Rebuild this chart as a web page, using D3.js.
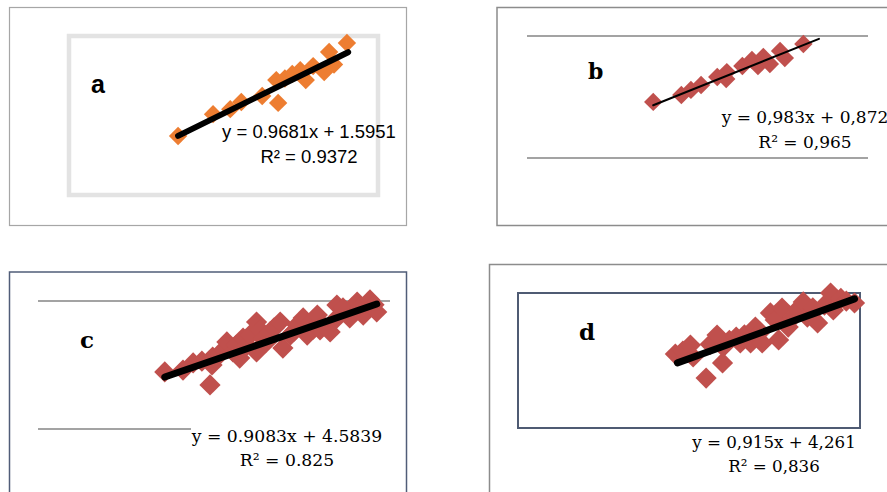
<!DOCTYPE html>
<html>
<head>
<meta charset="utf-8">
<script src="https://cdn.jsdelivr.net/npm/d3@7"></script>
<style>
  body { margin: 0; background: #fff; }
  svg { display: block; }
</style>
</head>
<body>
<svg id="chart" width="887" height="492"></svg>
<script>
// panel a (orange)
var aX = [17.6, 23.3, 26.1, 27.9, 31.3, 33.9, 33.6, 35.0, 36.2, 37.5, 38.4, 39.6, 41.4, 42.2, 43.0, 45.1];
var aY = [18.6, 25.6, 27.2, 29.5, 31.4, 29.2, 36.5, 37.0, 38.5, 39.7, 36.5, 41.0, 39.1, 45.5, 41.5, 48.4];
var aFit = {slope: 0.9681, intercept: 1.5951, from: 17.6, to: 45.3};
var aText = ["y = 0.9681x + 1.5951", "R² = 0.9372"];

// panel b
var bX = [21.1, 25.8, 27.4, 29.1, 31.8, 33.3, 33.4, 36.0, 37.6, 38.6, 39.5, 40.6, 42.3, 43.1, 46.2];
var bY = [23.0, 25.8, 27.9, 29.9, 33.2, 32.4, 35.2, 37.7, 40.2, 37.7, 41.4, 38.5, 43.9, 41.0, 46.7];
var bFit = {slope: 0.983, intercept: 0.872, from: 21.1, to: 48.8};
var bText = ["y = 0,983x + 0,872", "R² = 0,965"];

// panel c
var cX = [17.3, 20.0, 21.5, 22.8, 24.0, 24.3, 24.4, 25.4, 26.0, 26.5, 27.4, 27.9, 28.4, 28.9, 29.5, 29.9, 30.9,
          30.9, 31.4, 31.9, 32.4, 32.9, 33.5, 34.4, 34.8, 35.9, 36.4, 36.9, 37.8, 38.4, 38.9, 39.3, 39.9, 40.3,
          40.7, 41.8, 42.3, 42.8, 43.7, 44.2, 44.7, 45.8, 46.2, 46.7, 47.7, 48.3, 48.7];
var cY = [22.3, 23.0, 25.8, 26.5, 17.2, 25.0, 28.1, 29.0, 31.0, 34.0, 30.1, 32.8, 27.7, 35.5, 32.8, 36.7, 41.8,
          30.1, 38.7, 35.2, 34.0, 37.9, 39.5, 41.8, 31.6, 36.7, 38.0, 40.6, 43.4, 36.7, 41.5, 39.0, 44.5, 38.7,
          40.6, 37.9, 42.0, 48.4, 47.3, 46.0, 43.4, 49.6, 47.5, 44.5, 50.4, 48.5, 45.7];
var cFit = {slope: 0.9083, intercept: 4.5839, from: 17.3, to: 48.7};
var cText = ["y = 0.9083x + 4.5839", "R² = 0.825"];

// panel d
var dX = [21.4, 22.5, 23.6, 24.0, 25.9, 26.5, 27.5, 28.3, 28.4, 29.3, 30.3, 30.9, 31.5, 32.4, 33.1, 33.8,
          34.1, 35.3, 36.0, 36.5, 37.0, 37.9, 38.6, 39.3, 40.1, 40.7, 41.5, 42.2, 43.2, 44.1, 44.5, 45.6,
          46.4, 47.6];
var dY = [27.4, 28.5, 30.7, 26.3, 18.5, 31.0, 34.4, 24.1, 30.0, 32.5, 33.7, 31.5, 34.5, 31.5, 37.4, 35.5,
          31.5, 42.6, 40.0, 32.6, 44.4, 37.4, 41.0, 44.0, 46.7, 41.1, 44.5, 38.9, 45.5, 50.0, 43.7, 48.0,
          47.0, 46.3];
var dFit = {slope: 0.915, intercept: 4.261, from: 21.7, to: 47.6};
var dText = ["y = 0,915x + 4,261", "R² = 0,836"];

var gridValues = [0, 50];

var svg = d3.select("#chart");

function drawPanel(p) {
    var g = svg.append("g");
    var x = d3.scaleLinear().domain(p.xDomain).range(p.xRange);
    var y = d3.scaleLinear().domain([0, 50]).range(p.yRange);

    g.append("rect")
        .attr("x", p.outer[0])
        .attr("y", p.outer[1])
        .attr("width", p.outer[2])
        .attr("height", p.outer[3])
        .attr("fill", "none")
        .attr("stroke", p.outerColor)
        .attr("stroke-width", p.outerWidth);

    if (p.inner) {
        g.append("rect")
            .attr("x", p.inner[0])
            .attr("y", p.inner[1])
            .attr("width", p.inner[2])
            .attr("height", p.inner[3])
            .attr("fill", "none")
            .attr("stroke", p.innerColor)
            .attr("stroke-width", p.innerWidth);
    }

    if (p.grid) {
        g.selectAll(".grid")
            .data(gridValues)
            .enter().append("line")
            .attr("x1", p.grid[0])
            .attr("x2", p.grid[1])
            .attr("y1", function (d) { return y(d); })
            .attr("y2", function (d) { return y(d); })
            .attr("stroke", "#858585")
            .attr("stroke-width", 1.5);
    }

    var pts = p.xs.map(function (v, i) { return [v, p.ys[i]]; });
    g.selectAll(".pt")
        .data(pts)
        .enter().append("path")
        .attr("d", d3.symbol(d3.symbolSquare, p.markSize * p.markSize))
        .attr("transform", function (d) {
            return "translate(" + x(d[0]) + "," + y(d[1]) + ") rotate(45)";
        })
        .attr("fill", p.color);

    var f = p.fit;
    g.append("line")
        .attr("x1", x(f.from))
        .attr("y1", y(f.slope * f.from + f.intercept))
        .attr("x2", x(f.to))
        .attr("y2", y(f.slope * f.to + f.intercept))
        .attr("stroke", "#000")
        .attr("stroke-width", p.lineWidth)
        .attr("stroke-linecap", "round");

    g.append("text")
        .attr("x", p.labelPos[0])
        .attr("y", p.labelPos[1])
        .attr("font-family", p.labelFont)
        .attr("font-weight", "bold")
        .attr("font-size", p.labelSize + "px")
        .attr("fill", "#000")
        .text(p.label);

    var eq = g.append("g");
    if (p.eqBg) {
        eq.append("rect")
            .attr("x", p.eqPos[0] - 96)
            .attr("y", p.eqPos[1] - 15)
            .attr("width", 210)
            .attr("height", 42)
            .attr("fill", "#fff");
    }
    p.eqText.forEach(function (t, i) {
        eq.append("text")
            .attr("x", p.eqPos[0])
            .attr("y", p.eqPos[1] + i * p.eqGap)
            .attr("text-anchor", "middle")
            .attr("font-family", p.eqFont)
            .attr("font-size", p.eqSize + "px")
            .attr("fill", "#000")
            .text(t);
    });
}

var panels = [
    {label: "a", xs: aX, ys: aY, fit: aFit, eqText: aText, color: "#ED7D31",
     xDomain: [0, 50], xRange: [70, 377], yRange: [194, 38],
     outer: [9.5, 7.5, 397, 218], outerColor: "#a6a6a6", outerWidth: 1.2,
     inner: [69, 36, 309, 159], innerColor: "#e3e3e3", innerWidth: 4.5,
     markSize: 13, lineWidth: 6,
     labelPos: [91, 93], labelFont: "Liberation Sans", labelSize: 25,
     eqPos: [309, 138], eqGap: 25, eqFont: "Liberation Sans", eqSize: 18.5},
    {label: "b", xs: bX, ys: bY, fit: bFit, eqText: bText, color: "#C0504D",
     xDomain: [0, 57], xRange: [527, 868], yRange: [158, 36],
     outer: [497, 7.5, 400, 218], outerColor: "#8c8c8c", outerWidth: 1.5,
     grid: [527, 868],
     markSize: 13, lineWidth: 2,
     labelPos: [588, 79], labelFont: "DejaVu Serif", labelSize: 22,
     eqPos: [805, 123], eqGap: 25, eqFont: "DejaVu Serif", eqSize: 17},
    {label: "c", xs: cX, ys: cY, fit: cFit, eqText: cText, color: "#C0504D",
     xDomain: [0, 52], xRange: [48, 399], yRange: [429, 301],
     outer: [9.5, 272, 397, 240], outerColor: "#505d78", outerWidth: 1.5,
     grid: [38, 390],
     markSize: 15, lineWidth: 7,
     labelPos: [80, 348], labelFont: "DejaVu Serif", labelSize: 23,
     eqPos: [287, 442], eqGap: 23.5, eqFont: "DejaVu Serif", eqSize: 17.2, eqBg: true},
    {label: "d", xs: dX, ys: dY, fit: dFit, eqText: dText, color: "#C0504D",
     xDomain: [0, 48.4], xRange: [529, 860], yRange: [428, 293],
     outer: [489.5, 264.5, 420, 240], outerColor: "#8c8c8c", outerWidth: 1.5,
     inner: [518, 293, 342, 135], innerColor: "#4f5b73", innerWidth: 2,
     markSize: 15, lineWidth: 7,
     labelPos: [579, 340], labelFont: "DejaVu Serif", labelSize: 23,
     eqPos: [774, 448], eqGap: 23.5, eqFont: "DejaVu Serif", eqSize: 16.7}
];

panels.forEach(drawPanel);
</script>
</body>
</html>
